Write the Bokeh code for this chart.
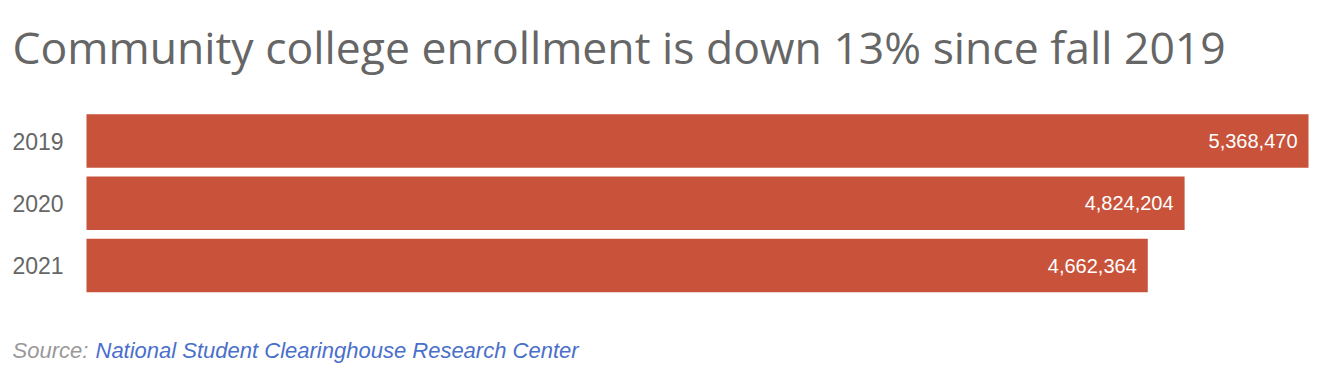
from bokeh.plotting import figure
from bokeh.models import Label, Range1d, ColumnDataSource
from bokeh.core.properties import value
from bokeh.embed import file_html
from bokeh.resources import INLINE

years = ["2019", "2020", "2021"]
enrollment = [5368470, 4824204, 4662364]
labels = [f"{v:,}" for v in enrollment]
rows = list(range(len(years)))

TITLE = "Community college enrollment is down 13% since fall 2019"
SOURCE_PREFIX = "Source:"
SOURCE_NAME = "National Student Clearinghouse Research Center"

BAR = "#C8533A"
W, H = 1322, 372
LEFT, RIGHT = 86, 1308          # pixel span of the value axis
TOP_CENTER, STEP = 140.5, 62.25  # pixel centre of first row, row pitch

vmax = max(enrollment)
per_px = vmax / (RIGHT - LEFT)

src = ColumnDataSource(dict(row=rows, year=years, value=enrollment, label=labels))

p = figure(width=W, height=H, output_backend="svg", toolbar_location=None,
           x_range=Range1d(-LEFT * per_px, vmax + (W - RIGHT) * per_px),
           y_range=Range1d((H - TOP_CENTER) / STEP, -TOP_CENTER / STEP),
           min_border=0)
p.outline_line_color = None
p.grid.visible = False
p.axis.visible = False
p.background_fill_color = "white"
p.border_fill_color = "white"

p.hbar(y="row", right="value", left=0, height=0.86, source=src,
       fill_color=BAR, line_color=None)
p.text(y="row", x="value", text="label", source=src, x_offset=-11,
       text_align="right", text_baseline="middle", text_color="white",
       text_font_size="20px", text_font=value("Liberation Sans"))
p.text(y="row", x=0, text="year", source=src, x_offset=-74,
       text_align="left", text_baseline="middle", text_color="#666666",
       text_font_size="23px", text_font=value("Liberation Sans"))

p.add_layout(Label(x=12, y=H - 46, x_units="screen", y_units="screen", text=TITLE,
                   text_font="Open Sans", text_font_size="44.5px", text_color="#666666",
                   text_baseline="alphabetic"))
p.add_layout(Label(x=12, y=H - 350, x_units="screen", y_units="screen", text=SOURCE_PREFIX,
                   text_font="Liberation Sans", text_font_style="italic", text_font_size="22px",
                   text_color="#999999", text_baseline="alphabetic"))
p.add_layout(Label(x=95, y=H - 350, x_units="screen", y_units="screen", text=SOURCE_NAME,
                   text_font="Liberation Sans", text_font_style="italic", text_font_size="22px",
                   text_color="#4A6FCB", text_baseline="alphabetic"))

open("out.html", "w").write(file_html(p, INLINE))
